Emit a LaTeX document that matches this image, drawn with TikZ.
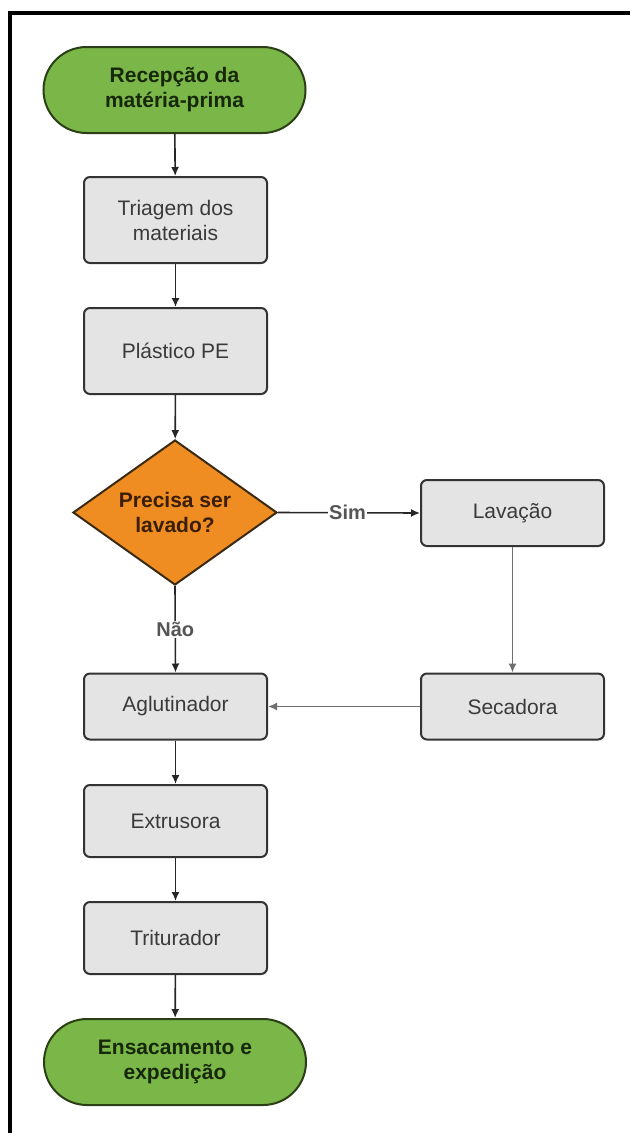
\documentclass[tikz,border=0pt]{standalone}
\usepackage{fontspec}
\setmainfont{Liberation Sans}
\usetikzlibrary{shapes.geometric,arrows.meta}
\definecolor{tgreen}{HTML}{7AB648}
\definecolor{tgreenline}{HTML}{2B3F16}
\definecolor{tgreentext}{HTML}{17280A}
\definecolor{boxfill}{HTML}{E4E4E4}
\definecolor{boxline}{HTML}{333333}
\definecolor{boxtext}{HTML}{3A3A3A}
\definecolor{dorange}{HTML}{EF8D22}
\definecolor{dline}{HTML}{3A2A12}
\definecolor{dtext}{HTML}{3A1E05}
\definecolor{lbl}{HTML}{555555}
\definecolor{sideline}{HTML}{6E6E6E}
\begin{document}
\begin{tikzpicture}[x=1pt,y=-1pt,
  every node/.style={font=\fontsize{21}{25}\selectfont},
  terminal/.style={draw=tgreenline, line width=2pt, fill=tgreen, rounded corners=43pt,
    minimum width=262pt, minimum height=86pt, inner sep=0pt, align=center,
    text=tgreentext, font=\fontsize{21}{25}\selectfont\bfseries},
  procbox/.style={draw=boxline, line width=2pt, fill=boxfill, rounded corners=6pt,
    minimum width=183pt, inner sep=0pt, align=center, text=boxtext},
  decision/.style={diamond, draw=dline, line width=2pt, fill=dorange, aspect=1.41,
    minimum width=204pt, minimum height=145pt, inner sep=0pt, align=center,
    text=dtext, font=\fontsize{21}{25}\selectfont\bfseries},
  conn/.style={line width=1.6pt, draw=black!85, -{Latex[length=9pt,width=8pt]}},
  sideconn/.style={line width=1.6pt, draw=sideline, -{Latex[length=9pt,width=8pt]}},
  edgelabel/.style={fill=white, inner sep=1pt, text=lbl, font=\fontsize{20}{24}\selectfont\bfseries}
]
\useasboundingbox (0,0) rectangle (630,1133);
\draw[line width=4pt, line join=miter] (630,13) -- (10,13) -- (10,1133);

\node[terminal] (start) at (174.5,90) {Recepção da\\matéria-prima};
\node[procbox, minimum height=86pt] (triagem) at (175.5,220) {Triagem dos\\materiais};
\node[procbox, minimum height=86pt] (plastico) at (175.5,351) {Plástico PE};
\node[decision] (dec) at (175,512.5) {Precisa ser\\lavado?};
\node[procbox, minimum height=66pt] (lavacao) at (512.5,513) {Lavação};
\node[procbox, minimum height=66pt] (aglut) at (175.5,706.5) {Aglutinador};
\node[procbox, minimum height=66pt] (secadora) at (512.5,706.5) {Secadora};
\node[procbox, minimum height=72pt] (extrusora) at (175.5,821) {Extrusora};
\node[procbox, minimum height=72pt] (triturador) at (175.5,938) {Triturador};
\node[terminal] (fim) at (175,1062) {Ensacamento e\\expedição};

\draw[conn] (start) -- (triagem);
\draw[conn] (triagem) -- (plastico);
\draw[conn] (plastico) -- (dec);
\draw[conn] (dec.south) -- node[edgelabel] {Não} (aglut.north);
\draw[conn] (dec.east) -- node[edgelabel, pos=0.49] {Sim} (lavacao.west);
\draw[sideconn] (lavacao) -- (secadora);
\draw[sideconn] (secadora.west) -- (aglut.east);
\draw[conn] (aglut) -- (extrusora);
\draw[conn] (extrusora) -- (triturador);
\draw[conn] (triturador) -- (fim);
\end{tikzpicture}
\end{document}
